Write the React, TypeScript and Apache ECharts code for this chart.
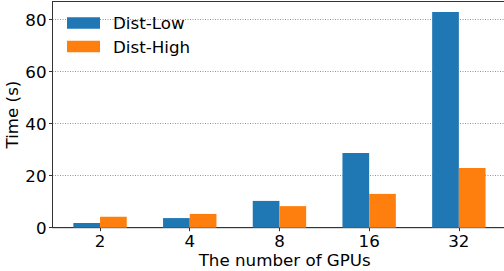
import React, { useEffect, useRef } from "react";
import * as echarts from "echarts";

const gpus = ["2", "4", "8", "16", "32"];
const distLow = [1.8, 3.7, 10.3, 28.7, 83];
const distHigh = [4.2, 5.3, 8.3, 13.0, 23.0];
const yTicks = [0, 20, 40, 60, 80];

export default function App() {
  const ref = useRef<HTMLDivElement>(null);
  useEffect(() => {
    if (!ref.current) return;
    const chart = echarts.init(ref.current, null, { renderer: "svg" });
    const font = "DejaVu Sans";
    const fs = 16.7;
    const idx = gpus.map((_, i) => i);
    chart.setOption({
      animation: false,
      textStyle: { fontFamily: font },
      grid: {
        left: 52.5,
        top: 1.5,
        width: 464.4,
        bottom: 43.3,
        outerBoundsMode: "none",
        containLabel: false,
        show: true,
        borderColor: "#333",
        borderWidth: 1,
        backgroundColor: "transparent",
      },
      legend: {
        left: 67,
        top: 14.5,
        orient: "vertical",
        padding: 0,
        itemWidth: 33,
        itemHeight: 11.7,
        itemGap: 6.5,
        icon: "rect",
        textStyle: { fontSize: fs, fontFamily: font, color: "#000", lineHeight: 17, padding: [0, 0, 0, 8] },
        data: ["Dist-Low", "Dist-High"],
      },
      xAxis: {
        type: "value",
        min: -0.53,
        max: 4.647,
        name: "The number of GPUs",
        nameLocation: "middle",
        nameGap: 23.5,
        nameMoveOverlap: false,
        nameTextStyle: { fontSize: fs, fontFamily: font, color: "#000", lineHeight: 17 },
        axisLine: { show: true, onZero: false, lineStyle: { color: "#333", width: 1 } },
        axisTick: { show: true, length: 3.5, lineStyle: { color: "#333" }, customValues: idx },
        axisLabel: {
          customValues: idx,
          margin: 5,
          fontSize: fs,
          lineHeight: 17,
          fontFamily: font,
          color: "#000",
          formatter: (v: number) => gpus[Math.round(v)] ?? "",
        },
        splitLine: { show: false },
      },
      yAxis: {
        type: "value",
        min: 0,
        max: 87,
        interval: 20,
        name: "Time (s)",
        nameLocation: "middle",
        nameGap: 32,
        nameMoveOverlap: false,
        nameTextStyle: { fontSize: fs, fontFamily: font, color: "#000" },
        axisLine: { show: true, onZero: false, lineStyle: { color: "#333", width: 1 } },
        axisTick: { show: true, length: 3.5, lineStyle: { color: "#333" }, customValues: yTicks },
        axisLabel: { customValues: yTicks, margin: 6, fontSize: fs, fontFamily: font, color: "#000" },
        splitLine: { show: true, lineStyle: { type: [1, 1.5], color: "#777", width: 0.8 } },
      },
      series: [
        {
          name: "Dist-Low",
          type: "bar",
          barWidth: 26.7,
          barGap: "0%",
          itemStyle: { color: "#1f77b4" },
          data: distLow.map((v, i) => [i, v]),
        },
        {
          name: "Dist-High",
          type: "bar",
          barWidth: 26.7,
          barGap: "0%",
          itemStyle: { color: "#ff7f0e" },
          data: distHigh.map((v, i) => [i, v]),
        },
      ],
    });
    return () => chart.dispose();
  }, []);
  return <div ref={ref} style={{ width: 504, height: 271, position: "absolute", left: 0, top: 0 }} />;
}
